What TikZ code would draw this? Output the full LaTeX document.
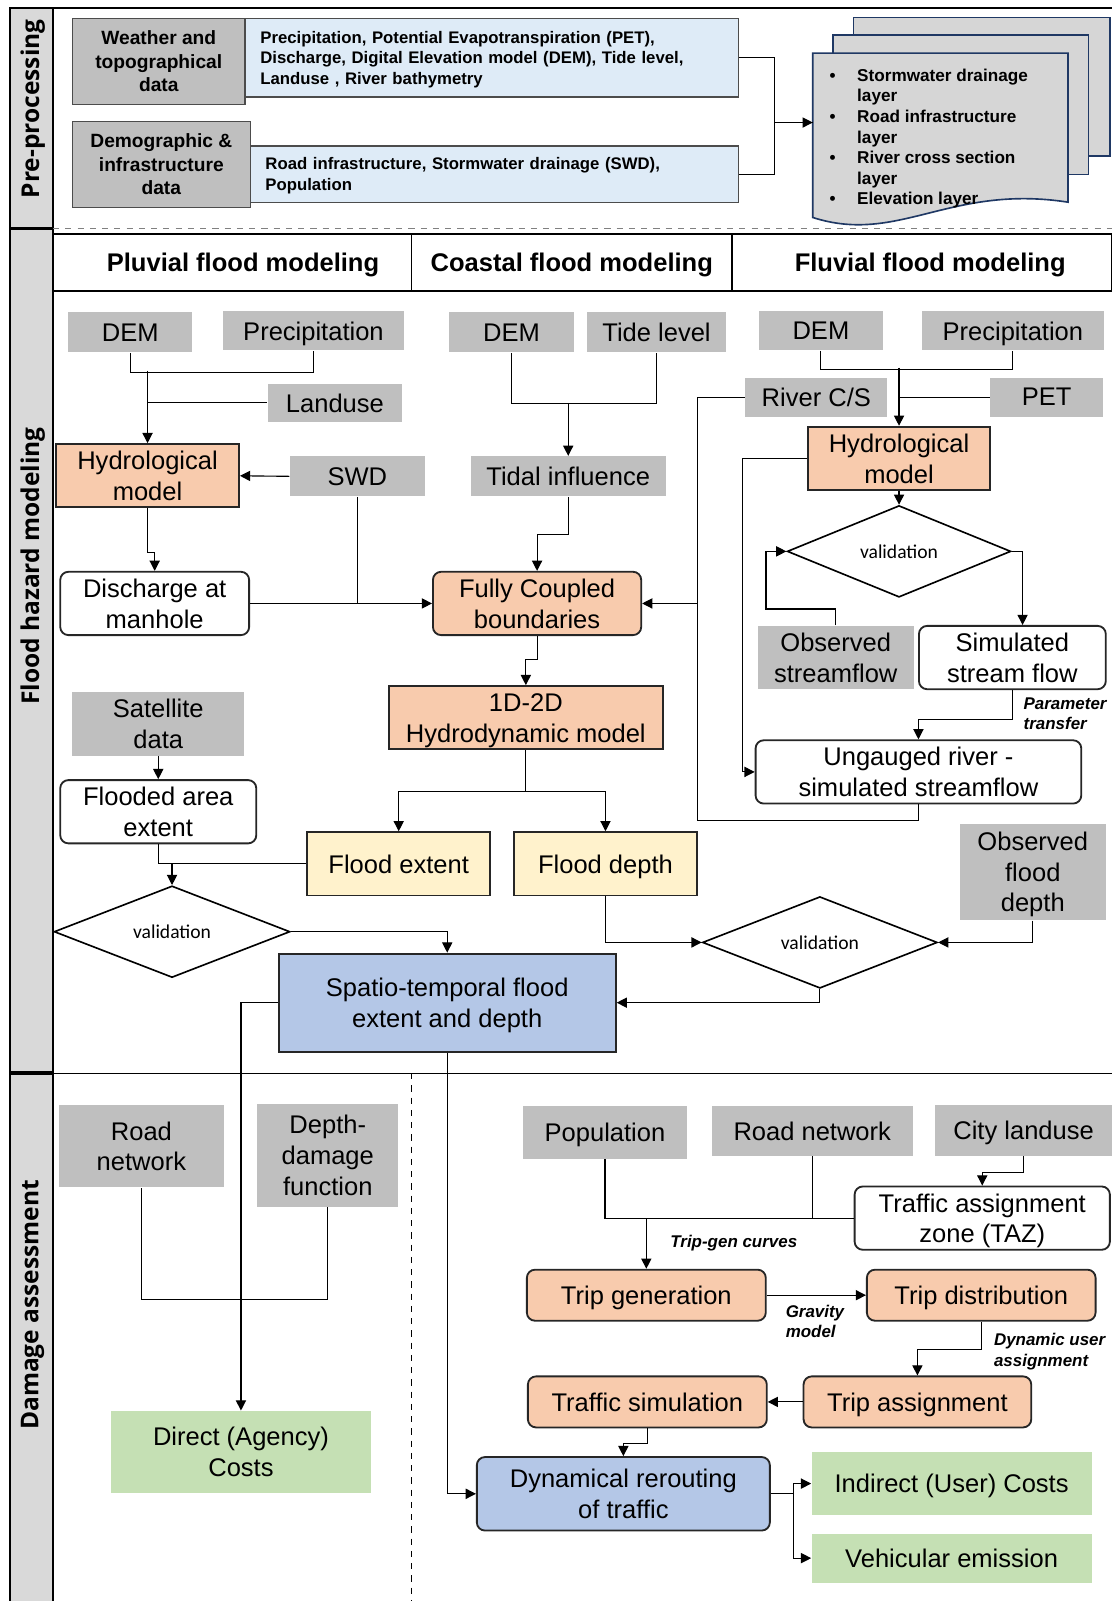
\documentclass[tikz,border=0pt]{standalone}
\usepackage{fontspec}
\setmainfont{Liberation Sans}
\newfontfamily\valfont{Carlito}
\newfontfamily\sidefont{Open Sans}
\usetikzlibrary{arrows.meta,shapes.geometric}

\definecolor{datagray}{HTML}{BFBFBF}
\definecolor{stripgray}{HTML}{D9D9D9}
\definecolor{modelorange}{HTML}{F8CBAD}
\definecolor{resultyellow}{HTML}{FFF2CC}
\definecolor{mapblue}{HTML}{B4C7E7}
\definecolor{costgreen}{HTML}{C5E0B4}
\definecolor{listblue}{HTML}{DEEBF7}
\definecolor{docgray}{HTML}{D6D6D6}
\definecolor{docnavy}{HTML}{1F3864}

\begin{document}
\begin{tikzpicture}[x=0.5pt,y=-0.5pt,>={Triangle[length=5pt,width=5pt]},line width=0.55pt,
    every node/.style={inner sep=0pt,align=center,text depth=0pt,font=\fontsize{12.5}{15}\selectfont},
    data node/.style={fill=datagray},
    model node/.style={fill=modelorange,draw=black!85,line width=1pt},
    step node/.style={fill=modelorange,draw=black!85,line width=0.9pt,rounded corners=4pt},
    plain node/.style={fill=white,draw=black!85,line width=0.9pt,rounded corners=4pt},
    result node/.style={fill=resultyellow,draw=black!85,line width=0.9pt},
    map node/.style={fill=mapblue,draw=black!85,line width=1pt},
    cost node/.style={fill=costgreen},
    check node/.style={diamond,draw=black,line width=0.8pt,font=\valfont\fontsize{9.6}{11}\selectfont},
    input node/.style={fill=datagray,draw=black!70,line width=0.6pt,font=\bfseries\fontsize{9.4}{11.5}\selectfont},
    list node/.style={fill=listblue,draw=black!70,line width=0.6pt,align=left,inner xsep=7.5pt,font=\bfseries\fontsize{8.2}{10}\selectfont},
    head node/.style={draw=black,line width=0.8pt,minimum height=28pt,font=\bfseries\fontsize{12.5}{15}\selectfont},
    side node/.style={rotate=90,text depth=2.9pt,font=\sidefont\bfseries\fontsize{12}{14}\selectfont},
    note/.style={align=left,font=\bfseries\itshape\fontsize{8.3}{10}\selectfont}]

    \useasboundingbox (0,0) rectangle (1089,1568);

    \fill[stripgray] (10,8) rectangle (52,1568);
    \draw[line width=1pt] (1089,8) -- (10,8) -- (10,1568);
    \draw[line width=1pt] (52,8) -- (52,1568);
    \draw[line width=1.6pt] (10,224) -- (52,224);
    \draw[line width=1.6pt] (10,1051) -- (52,1051);
    \draw[black!50,dashed,line width=0.6pt] (52,224) -- (1089,224);
    \draw[line width=0.6pt] (52,1051) -- (1089,1051);
    \draw[dashed,line width=0.5pt] (403,1051) -- (403,1568);

    \node[side node] (lpre) at (32,106.5) {Pre-processing};
    \node[side node] (lflo) at (32,554.5) {Flood hazard modeling};
    \node[side node] (ldam) at (32,1278) {Damage assessment};

    \node[list node, text width=226.5pt, text depth=20pt, minimum height=38.5pt] (wtdlist) at (481.5,56.5)
        {Precipitation, Potential Evapotranspiration (PET),\\Discharge, Digital Elevation model (DEM), Tide level,\\Landuse , River bathymetry};
    \node[input node, minimum width=84.5pt, minimum height=42pt] (wtd) at (155.5,60) {Weather and\\topographical\\data};
    \node[list node, text width=224pt, text depth=10pt, minimum height=27.5pt] (demlist) at (484,170.5)
        {Road infrastructure, Stormwater drainage (SWD),\\Population};
    \node[input node, minimum width=87pt, minimum height=42pt] (dem) at (158,161) {Demographic \&\\infrastructure\\data};

    \draw[docnavy,fill=docgray,line width=0.8pt] (836,17) rectangle (1087,153);
    \draw[docnavy,fill=docgray,line width=0.8pt] (816,34) rectangle (1066,171);
    \draw[docnavy,fill=docgray,line width=0.8pt] (796,52) -- (1046,52) -- (1046,198)
        .. controls (930,180) and (880,240) .. (796,213) -- cycle;
    \coordinate (docL) at (796,120);
    \node[anchor=west, align=left, font=\bfseries\fontsize{8.4}{10.1}\selectfont] (layers) at (812,134)
        {\makebox[13.5pt][l]{•}Stormwater drainage\\\hspace*{13.5pt}layer\\
         \makebox[13.5pt][l]{•}Road infrastructure\\\hspace*{13.5pt}layer\\
         \makebox[13.5pt][l]{•}River cross section\\\hspace*{13.5pt}layer\\
         \makebox[13.5pt][l]{•}Elevation layer};

    \draw (demlist.east) -- ++(35,0) |- (docL);
    \draw[->] (wtdlist.east) -- ++(35,0) |- (docL);

    \node[head node, minimum width=175.5pt] (hplu) at (227.5,257) {\hspace*{10.5pt}Pluvial flood modeling};
    \node[head node, minimum width=157pt] (hcoa) at (560,257) {Coastal flood modeling};
    \node[head node, minimum width=186pt] (hflu) at (903,257) {\hspace*{8pt}Fluvial flood modeling};

    \node[data node, minimum width=60.5pt, minimum height=19.5pt] (pdem) at (127.5,325.5) {DEM};
    \node[data node, minimum width=89pt, minimum height=19pt] (pprec) at (307,324) {Precipitation};
    \node[data node, minimum width=66pt, minimum height=18.5pt] (pland) at (328,394.5) {Landuse};
    \node[model node, minimum width=89.5pt, minimum height=31pt] (phyd) at (144.5,466) {Hydrological\\model};
    \node[data node, minimum width=66pt, minimum height=19.5pt] (pswd) at (350,466.5) {SWD};
    \node[plain node, minimum width=92.5pt, minimum height=31pt] (pdis) at (151.5,591) {Discharge at\\manhole};
    \node[data node, minimum width=84pt, minimum height=31pt] (psat) at (155,709) {Satellite\\data};
    \node[plain node, minimum width=96pt, minimum height=31pt] (pflo) at (155,795) {Flooded area\\extent};
    \node[check node, minimum width=115.5pt, minimum height=40.5pt] (pval) at (168.5,912.5) {validation};
    \node[map node, minimum width=165pt, minimum height=48pt] (sptm) at (438,982) {Spatio-temporal flood\\extent and depth};

    \node[data node, minimum width=61pt, minimum height=19.5pt] (cdem) at (501,325.5) {DEM};
    \node[data node, minimum width=68pt, minimum height=19.5pt] (ctide) at (643,325.5) {Tide level};
    \node[data node, minimum width=95.5pt, minimum height=19.5pt] (ctid) at (556.5,466.5) {Tidal influence};
    \node[step node, minimum width=102pt, minimum height=31pt] (cfcb) at (526,591) {Fully Coupled\\boundaries};
    \node[model node, minimum width=134pt, minimum height=31pt] (chyd) at (515,703) {1D-2D\\Hydrodynamic model};
    \node[result node, minimum width=89.5pt, minimum height=31pt] (cext) at (390.5,846) {Flood extent};
    \node[result node, minimum width=90pt, minimum height=31pt] (cdep) at (593,846) {Flood depth};
    \node[check node, minimum width=115pt, minimum height=40pt] (cval) at (803,923) {validation};
    \node[data node, minimum width=71.5pt, minimum height=47pt] (cobs) at (1011.5,854) {Observed\\flood\\depth};

    \node[data node, minimum width=61pt, minimum height=19pt] (fdem) at (804,324) {DEM};
    \node[data node, minimum width=89pt, minimum height=19pt] (fprec) at (992,324) {Precipitation};
    \node[data node, minimum width=69.5pt, minimum height=19pt] (friv) at (799.5,389) {River C/S};
    \node[data node, minimum width=55pt, minimum height=19pt] (fpet) at (1025,389) {PET};
    \node[model node, minimum width=89.5pt, minimum height=31pt] (fhyd) at (880.5,449) {Hydrological\\model};
    \node[check node, minimum width=109.5pt, minimum height=40pt] (fval) at (880.5,540) {validation};
    \node[data node, minimum width=76.5pt, minimum height=31pt] (fobs) at (818.5,644) {Observed\\streamflow};
    \node[plain node, minimum width=91.5pt, minimum height=31pt] (fsim) at (991.5,644) {Simulated\\stream flow};
    \node[plain node, minimum width=159.5pt, minimum height=31pt] (fung) at (899.5,756) {Ungauged river -\\simulated streamflow};
    \node[note, anchor=west] (lpar) at (1002,699) {Parameter\\transfer};

    \node[data node, minimum width=80.5pt, minimum height=40.5pt] (droad) at (138.5,1122.5) {Road\\network};
    \node[data node, minimum width=69pt, minimum height=50.5pt] (ddf) at (321,1131.5) {Depth-\\damage\\function};
    \node[cost node, minimum width=127pt, minimum height=40pt] (ddir) at (236,1422) {Direct (Agency)\\Costs};

    \node[data node, minimum width=80.5pt, minimum height=26pt] (tpop) at (592.5,1109) {Population};
    \node[data node, minimum width=98.5pt, minimum height=24.5pt] (troad) at (795.5,1107.5) {Road network};
    \node[data node, minimum width=86.5pt, minimum height=25pt] (tcity) at (1002.5,1107) {City landuse};
    \node[plain node, minimum width=125pt, minimum height=31pt] (ttaz) at (962,1193) {Traffic assignment\\zone (TAZ)};
    \node[step node, minimum width=117pt, minimum height=25pt] (tgen) at (633,1268.5) {Trip generation};
    \node[step node, minimum width=112pt, minimum height=25pt] (tdis) at (961,1268.5) {Trip distribution};
    \node[step node, minimum width=111.5pt, minimum height=25pt] (tasg) at (898.5,1373) {Trip assignment};
    \node[step node, minimum width=117pt, minimum height=25pt] (tsim) at (634,1373) {Traffic simulation};
    \node[step node, fill=mapblue, minimum width=143.5pt, minimum height=36pt] (tdyn) at (610.5,1463) {Dynamical rerouting\\of traffic};
    \node[cost node, minimum width=137pt, minimum height=31pt] (tind) at (932,1453) {Indirect (User) Costs};
    \node[cost node, minimum width=137pt, minimum height=24pt] (tveh) at (932,1526) {Vehicular emission};
    \node[note, anchor=west] (lcur) at (656,1216) {Trip-gen curves};
    \node[note, anchor=west] (lgra) at (769,1294) {Gravity\\model};
    \node[note, anchor=west] (ldyn) at (973,1322) {Dynamic user\\assignment};

    \draw (pdem.south) -- ++(0,19) -| (pprec.south);
    \draw[->] ([yshift=35.5pt]phyd.north) -- (phyd.north);
    \draw (pland.west) -- (pland.west -| phyd.north);
    \draw[->] (pswd.west) -- (phyd.east);
    \draw[->] (phyd.south) -- ++(0,43) -| (pdis.north);
    \draw (pswd.south) -- (pswd.south |- pdis.east);
    \draw[->] (pdis.east) -- (cfcb.west);
    \draw[->] (psat.south) -- (pflo.north);
    \draw (pflo.south) |- (cext.west);
    \draw[->] (pval.north |- cext.west) -- (pval.north);
    \draw[->] (pval.east) -| (sptm.north);
    \draw[->] (sptm.west) -| (ddir.north);
    \draw[->] (sptm.south) |- (tdyn.west);

    \draw (cdem.south) -- ++(0,50) -| (ctide.south);
    \draw[->] ([yshift=26pt]ctid.north) -- (ctid.north);
    \draw[->] (ctid.south) -- ++(0,37) -| (cfcb.north);
    \draw[->] (cfcb.south) -- ++(0,23) -| (chyd.north);
    \draw[->] (chyd.south) -- ++(0,40) -| (cext.north);
    \draw[->] (chyd.south) -- ++(0,40) -| (cdep.north);
    \draw[->] (cdep.south) |- (cval.west);
    \draw[->] (cobs.south) |- (cval.east);
    \draw[->] (cval.south) |- (sptm.east);

    \draw (fdem.south) -- ++(0,18) -| (fprec.south);
    \draw[->] ([yshift=28.5pt]fhyd.north) -- (fhyd.north);
    \draw (fpet.west) -- (fpet.west -| fhyd.north);
    \draw[->] (friv.west) -- ++(-46,0) |- (cfcb.east);
    \draw (fung.south) -- ++(0,16) -| ([xshift=-23pt]friv.west);
    \draw[->] (fhyd.west) -- ++(-63,0) |- (fung.west);
    \draw[->] (fhyd.south) -- (fval.north);
    \draw[->] (fval.east) -| ([xshift=5pt]fsim.north);
    \draw[->] (fobs.north) -- ++(0,-16) -| ([xshift=-10pt]fval.west) -- (fval.west);
    \draw[->] (fsim.south) -- ++(0,29) -| (fung.north);

    \draw (droad.south) -- ++(0,109) -| (ddf.south);
    \draw[->] (tcity.south) -- ++(0,16) -| (ttaz.north);
    \draw (tpop.south) |- (ttaz.west);
    \draw (troad.south) -- (troad.south |- ttaz.west);
    \draw[->] (tgen.north |- ttaz.west) -- (tgen.north);
    \draw[->] (tgen.east) -- (tdis.west);
    \draw[->] (tdis.south) -- ++(0,27) -| (tasg.north);
    \draw[->] (tasg.west) -- (tsim.east);
    \draw[->] (tsim.south) -- ++(0,15) -| (tdyn.north);
    \draw[->] (tdyn.east) -- ++(22,0) |- (tind.west);
    \draw[->] (tdyn.east) -- ++(22,0) |- (tveh.west);

\end{tikzpicture}
\end{document}
